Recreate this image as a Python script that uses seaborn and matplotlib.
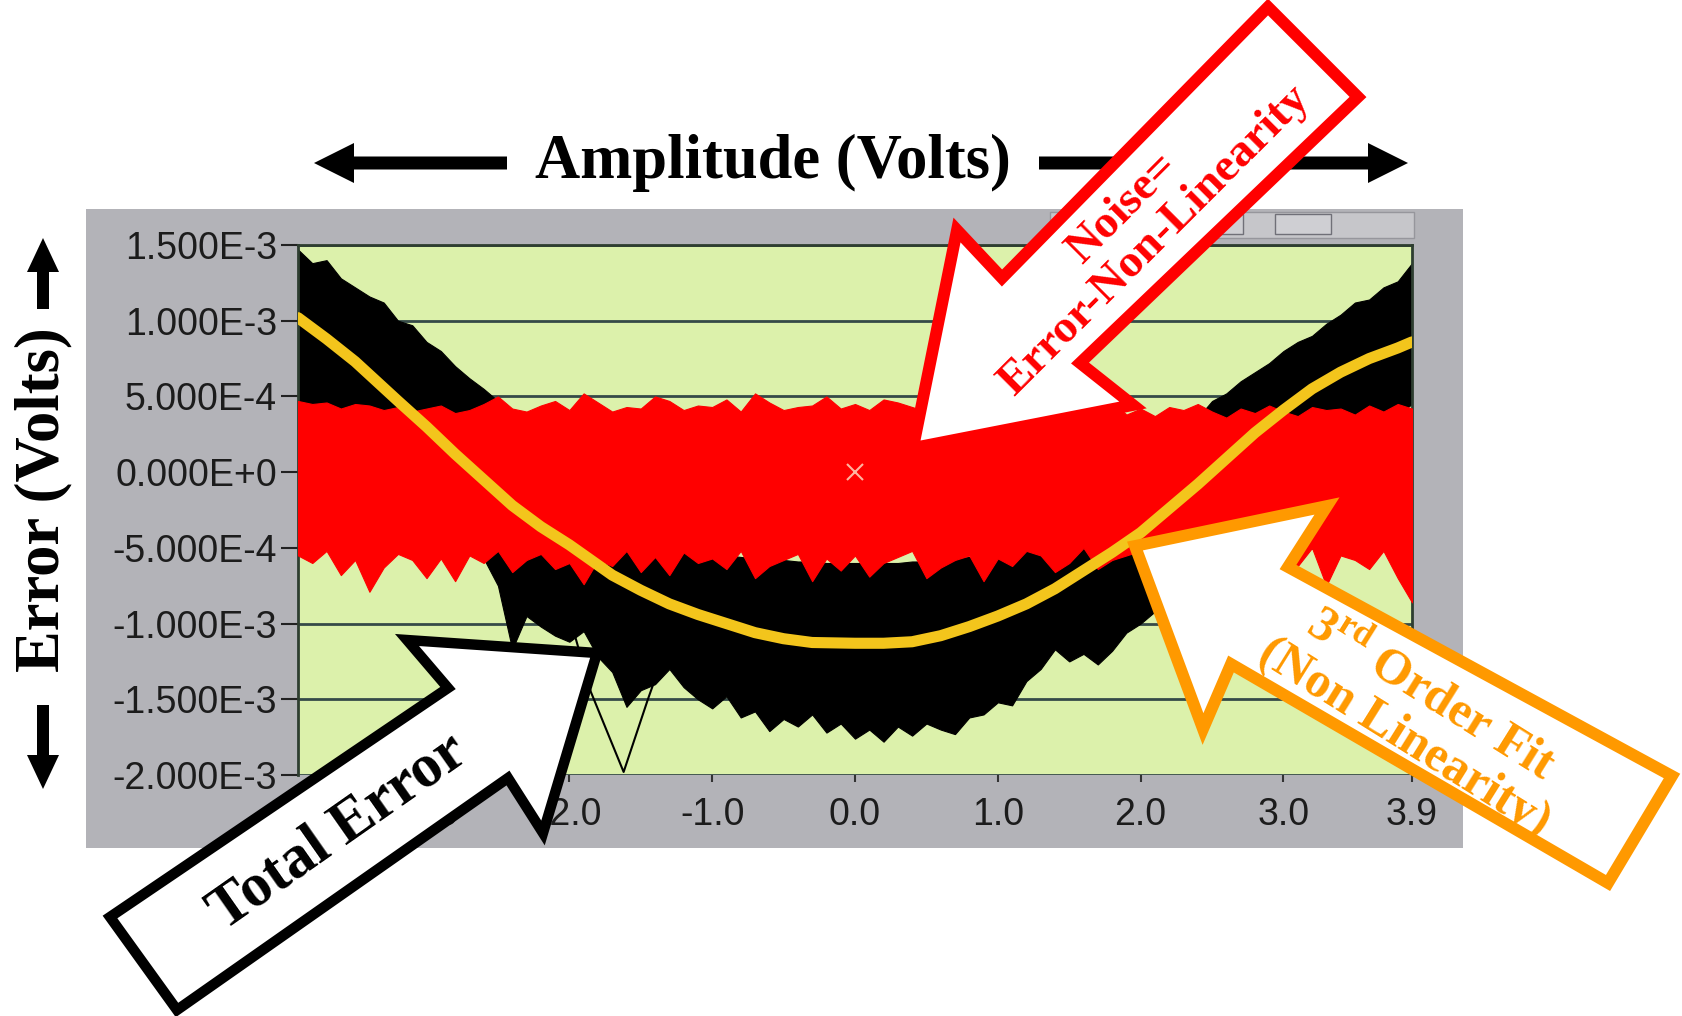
import numpy as np
import pandas as pd
import matplotlib
matplotlib.use("Agg")
import matplotlib.pyplot as plt
import seaborn as sns
from matplotlib.patches import Polygon, Rectangle

# ---------------- data (values in mV) ----------------
amplitude_v = [-3.9, -3.8, -3.7, -3.6, -3.5, -3.4, -3.3, -3.2, -3.1, -3.0,
               -2.9, -2.8, -2.7, -2.6, -2.5, -2.4, -2.3, -2.2, -2.1, -2.0,
               -1.9, -1.8, -1.7, -1.6, -1.5, -1.4, -1.3, -1.2, -1.1, -1.0,
               -0.9, -0.8, -0.7, -0.6, -0.5, -0.4, -0.3, -0.2, -0.1, 0.0,
               0.1, 0.2, 0.3, 0.4, 0.5, 0.6, 0.7, 0.8, 0.9, 1.0,
               1.1, 1.2, 1.3, 1.4, 1.5, 1.6, 1.7, 1.8, 1.9, 2.0,
               2.1, 2.2, 2.3, 2.4, 2.5, 2.6, 2.7, 2.8, 2.9, 3.0,
               3.1, 3.2, 3.3, 3.4, 3.5, 3.6, 3.7, 3.8, 3.9]

noise_upper_mv = [0.47, 0.45, 0.46, 0.42, 0.45, 0.44, 0.41, 0.43, 0.40, 0.42,
                  0.44, 0.39, 0.41, 0.45, 0.50, 0.42, 0.40, 0.44, 0.47, 0.41,
                  0.52, 0.46, 0.40, 0.43, 0.42, 0.50, 0.47, 0.41, 0.44, 0.43,
                  0.48, 0.40, 0.52, 0.46, 0.41, 0.43, 0.44, 0.50, 0.42, 0.45,
                  0.41, 0.48, 0.46, 0.43, 0.40, 0.45, 0.42, 0.47, 0.44, 0.41,
                  0.40, 0.46, 0.43, 0.52, 0.45, 0.41, 0.44, 0.47, 0.38, 0.42,
                  0.37, 0.43, 0.41, 0.45, 0.40, 0.36, 0.42, 0.39, 0.44, 0.40,
                  0.37, 0.43, 0.41, 0.42, 0.38, 0.44, 0.40, 0.45, 0.42]

noise_lower_mv = [-0.55, -0.60, -0.52, -0.68, -0.58, -0.79, -0.63, -0.54, -0.58, -0.70,
                  -0.57, -0.72, -0.55, -0.60, -0.52, -0.66, -0.58, -0.54, -0.64, -0.60,
                  -0.74, -0.58, -0.62, -0.52, -0.66, -0.56, -0.68, -0.53, -0.60, -0.57,
                  -0.64, -0.52, -0.70, -0.62, -0.58, -0.54, -0.72, -0.57, -0.65, -0.55,
                  -0.69, -0.60, -0.56, -0.52, -0.70, -0.63, -0.58, -0.55, -0.72, -0.57,
                  -0.62, -0.52, -0.55, -0.66, -0.60, -0.50, -0.64, -0.58, -0.55, -0.52,
                  -0.60, -0.50, -0.54, -0.58, -0.48, -0.62, -0.53, -0.57, -0.50, -0.60,
                  -0.62, -0.50, -0.75, -0.55, -0.58, -0.64, -0.52, -0.70, -0.86]

total_upper_mv = [1.47, 1.38, 1.40, 1.28, 1.22, 1.16, 1.12, 1.00, 0.97, 0.86,
                  0.80, 0.70, 0.62, 0.55, 0.47, 0.38, 0.30, 0.22, 0.14, 0.06,
                  -0.02, -0.10, -0.18, -0.25, -0.32, -0.38, -0.43, -0.48, -0.52, -0.55,
                  -0.55, -0.56, -0.57, -0.58, -0.58, -0.59, -0.59, -0.60, -0.60, -0.60,
                  -0.60, -0.60, -0.60, -0.59, -0.59, -0.58, -0.57, -0.56, -0.55, -0.53,
                  -0.49, -0.45, -0.40, -0.35, -0.29, -0.23, -0.17, -0.10, -0.03, 0.04,
                  0.12, 0.20, 0.28, 0.36, 0.47, 0.52, 0.60, 0.66, 0.72, 0.80,
                  0.86, 0.90, 0.98, 1.04, 1.12, 1.14, 1.22, 1.26, 1.38]

total_lower_mv = [0.20, 0.15, 0.10, 0.05, 0.00, -0.05, -0.10, -0.15, -0.20, -0.25,
                  -0.30, -0.38, -0.46, -0.57, -0.75, -1.17, -0.95, -1.02, -1.08, -1.12,
                  -1.05, -1.22, -1.32, -1.55, -1.44, -1.40, -1.30, -1.42, -1.50, -1.56,
                  -1.48, -1.62, -1.58, -1.71, -1.63, -1.68, -1.60, -1.72, -1.66, -1.76,
                  -1.70, -1.78, -1.68, -1.74, -1.66, -1.70, -1.73, -1.62, -1.60, -1.52,
                  -1.54, -1.38, -1.30, -1.17, -1.25, -1.20, -1.27, -1.18, -1.06, -1.00,
                  -0.92, -0.85, -0.78, -0.70, -0.62, -0.55, -0.48, -0.40, -0.33, -0.26,
                  -0.18, -0.10, -0.02, 0.06, 0.14, 0.22, 0.30, 0.38, 0.45]

outlier_x_v = [-2.0, -1.85, -1.62, -1.45, -1.3]
outlier_y_mv = [-0.95, -1.45, -1.98, -1.50, -1.10]

fit_x_v = [-3.9, -3.7, -3.5, -3.2, -3.0, -2.8, -2.6, -2.4, -2.2, -2.0, -1.7, -1.5,
           -1.3, -1.1, -0.9, -0.7, -0.5, -0.3, 0.0, 0.2, 0.4, 0.6, 0.8, 1.0, 1.2,
           1.4, 1.6, 1.8, 2.0, 2.2, 2.4, 2.6, 2.8, 3.0, 3.2, 3.4, 3.6, 3.8, 3.9]
fit_y_mv = [1.02, 0.88, 0.73, 0.47, 0.30, 0.12, -0.05, -0.22, -0.36, -0.48, -0.68, -0.78,
            -0.87, -0.94, -1.00, -1.06, -1.10, -1.125, -1.13, -1.13, -1.12, -1.08, -1.02, -0.95, -0.87,
            -0.77, -0.65, -0.53, -0.40, -0.24, -0.08, 0.09, 0.26, 0.41, 0.55, 0.66, 0.75, 0.82, 0.86]

x_ticks = [-3.0, -2.0, -1.0, 0.0, 1.0, 2.0, 3.0, 3.9]
x_tick_labels = ["-3.0", "-2.0", "-1.0", "0.0", "1.0", "2.0", "3.0", "3.9"]
y_ticks_mv = [1.5, 1.0, 0.5, 0.0, -0.5, -1.0, -1.5, -2.0]
y_tick_labels = ["1.500E-3", "1.000E-3", "5.000E-4", "0.000E+0",
                 "-5.000E-4", "-1.000E-3", "-1.500E-3", "-2.000E-3"]

# ---------------- style ----------------
sns.set_theme(style="white")
plt.rcParams['font.family'] = ['Liberation Sans', 'DejaVu Sans']
plt.rcParams['mathtext.fontset'] = 'custom'
plt.rcParams['mathtext.rm'] = 'Liberation Serif:bold'
plt.rcParams['mathtext.bf'] = 'Liberation Serif:bold'
SERIF = ['Liberation Serif', 'DejaVu Serif']

W, H = 1683, 1016
fig = plt.figure(figsize=(W / 100, H / 100), dpi=100)
fig.patch.set_facecolor('white')

# background panel (gray window)
bg = fig.add_axes([0, 0, 1, 1], zorder=0)
bg.set_xlim(0, W); bg.set_ylim(H, 0); bg.axis('off')
bg.add_patch(Rectangle((86, 209), 1377, 639, facecolor='#b3b3b8', edgecolor='none'))
bg.add_patch(Rectangle((1050, 212), 364, 26, facecolor='#c6c6ca', edgecolor='#96969c', lw=1))
bg.add_patch(Rectangle((1205, 214), 38, 20, facecolor='#cfcfd3', edgecolor='#707078', lw=1))
bg.add_patch(Rectangle((1275, 214), 56, 20, facecolor='#cfcfd3', edgecolor='#707078', lw=1))

# main plot
ax = fig.add_axes([298 / W, 1 - 775 / H, 1114 / W, 530 / H], zorder=1)
ax.set_facecolor('#dcf1ab')
xs = np.array(amplitude_v)
ax.fill_between(xs, np.array(total_lower_mv) * 1e-3, np.array(total_upper_mv) * 1e-3,
                color='black', lw=0.8, zorder=2)
ax.plot(np.array(outlier_x_v), np.array(outlier_y_mv) * 1e-3, color='black', lw=1.5, zorder=2)
ax.fill_between(xs, np.array(noise_lower_mv) * 1e-3, np.array(noise_upper_mv) * 1e-3,
                color='#ff0000', lw=0.8, zorder=3)
fit_df = pd.DataFrame({'x': fit_x_v, 'y': np.array(fit_y_mv) * 1e-3})
sns.lineplot(data=fit_df, x='x', y='y', ax=ax, color='#f3c51c', lw=8,
             zorder=4, estimator=None)
ax.plot(0.0, 0.0, marker='x', color='#ffb4a0', ms=12, mew=1.5, zorder=5)

ax.set_xlim(-3.9, 3.9)
ax.set_ylim(-2.0e-3, 1.5e-3)
ax.set_xticks(x_ticks)
ax.set_xticklabels(x_tick_labels)
ax.set_yticks(np.array(y_ticks_mv) * 1e-3)
ax.set_yticklabels(y_tick_labels)
ax.set_xlabel(''); ax.set_ylabel('')
ax.set_axisbelow(True)
ax.yaxis.grid(True, color='#354a48', lw=2)
ax.xaxis.grid(False)
ax.tick_params(axis='y', length=12, width=1.5, color='#222222', pad=3,
               labelsize=27, labelcolor='#1c1c1c', left=True)
ax.tick_params(axis='x', length=5, width=1.5, color='#333333', pad=11,
               labelsize=27, labelcolor='#1c1c1c', bottom=True)
for side in ['left', 'top', 'right']:
    ax.spines[side].set_visible(True)
    ax.spines[side].set_color('#2e3e30')
    ax.spines[side].set_linewidth(2)
ax.spines['bottom'].set_visible(False)

# overlay annotations
ov = fig.add_axes([0, 0, 1, 1], zorder=3)
ov.set_xlim(0, W); ov.set_ylim(H, 0); ov.axis('off')
ov.patch.set_alpha(0)

# axis arrows
ov.add_patch(Polygon([(314, 163), (354, 143), (354, 156.5), (507, 156.5), (507, 169.5),
                      (354, 169.5), (354, 183)], closed=True, facecolor='black', edgecolor='none'))
ov.add_patch(Polygon([(1408, 163), (1368, 143), (1368, 156.5), (1039, 156.5), (1039, 169.5),
                      (1368, 169.5), (1368, 183)], closed=True, facecolor='black', edgecolor='none'))
ov.add_patch(Polygon([(43, 238), (27, 272), (37, 272), (37, 309), (49, 309), (49, 272),
                      (59, 272)], closed=True, facecolor='black', edgecolor='none'))
ov.add_patch(Polygon([(43, 789), (27, 755), (37, 755), (37, 705), (49, 705), (49, 755),
                      (59, 755)], closed=True, facecolor='black', edgecolor='none'))
ov.text(773, 163, "Amplitude (Volts)", ha='center', va='center', fontsize=45,
        fontweight='bold', family=SERIF, color='black')
ov.text(43, 500, "Error (Volts)", ha='center', va='center', rotation=90,
        rotation_mode='anchor', fontsize=45, fontweight='bold', family=SERIF, color='black')

# callout arrows
red_arrow = [(913, 448), (957, 230), (1002, 278), (1268, 7), (1358, 97), (1080, 363), (1133, 405)]
black_arrow = [(597, 653), (407, 640), (448, 688), (110, 917), (177, 1010), (508, 778), (543, 833)]
orange_arrow = [(1135, 546), (1327, 506), (1288, 567), (1672, 776), (1608, 883), (1231, 664), (1203, 729)]
ov.add_patch(Polygon(red_arrow, closed=True, facecolor='white', edgecolor='#ff0000',
                     lw=8.5, joinstyle='miter'))
ov.add_patch(Polygon(black_arrow, closed=True, facecolor='white', edgecolor='black',
                     lw=7.5, joinstyle='miter'))
ov.add_patch(Polygon(orange_arrow, closed=True, facecolor='white', edgecolor='#ff9900',
                     lw=8.5, joinstyle='miter'))

ov.text(1139, 225, "Noise=\nError-Non-Linearity", ha='center', va='center',
        rotation=45, rotation_mode='anchor', multialignment='center', linespacing=1.1,
        fontsize=34, fontweight='bold', family=SERIF, color='#ff0000')
ov.text(338, 832, "Total Error", ha='center', va='center', rotation=35,
        rotation_mode='anchor', fontsize=44, fontweight='bold', family=SERIF, color='black')
ov.text(1418, 716, "3$^{\\mathbf{rd}}$ Order Fit\n(Non Linearity)", ha='center', va='center',
        rotation=-32, rotation_mode='anchor', multialignment='center', linespacing=1.08,
        fontsize=36, fontweight='bold', family=SERIF, color='#ff9900')

fig.savefig('out.png', dpi=100)
